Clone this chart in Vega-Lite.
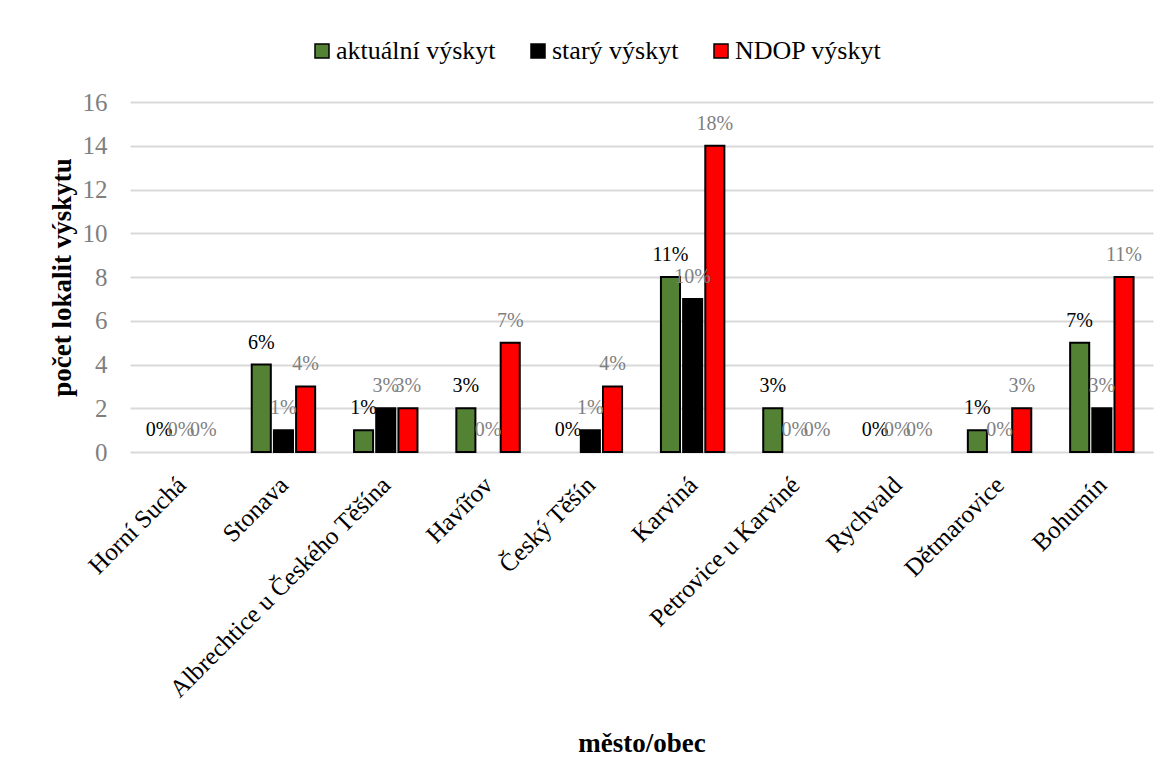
{
  "$schema": "https://vega.github.io/schema/vega-lite/v6.json",
  "width": 1023,
  "height": 350,
  "autosize": {"type": "none"},
  "padding": {"left": 130, "top": 102, "right": 18, "bottom": 328},
  "background": "white",
  "config": {
    "font": "Liberation Serif",
    "view": {"stroke": null},
    "text": {"font": "Liberation Serif"},
    "axis": {"labelFont": "Liberation Serif", "titleFont": "Liberation Serif"},
    "legend": {"labelFont": "Liberation Serif", "titleFont": "Liberation Serif"}
  },
  "data": {
    "values": [
      {"mesto": "Horní Suchá", "serie": "aktuální výskyt", "pocet": 0, "podil": "0%"},
      {"mesto": "Horní Suchá", "serie": "starý výskyt", "pocet": 0, "podil": "0%"},
      {"mesto": "Horní Suchá", "serie": "NDOP výskyt", "pocet": 0, "podil": "0%"},
      {"mesto": "Stonava", "serie": "aktuální výskyt", "pocet": 4, "podil": "6%"},
      {"mesto": "Stonava", "serie": "starý výskyt", "pocet": 1, "podil": "1%"},
      {"mesto": "Stonava", "serie": "NDOP výskyt", "pocet": 3, "podil": "4%"},
      {"mesto": "Albrechtice u Českého Těšína", "serie": "aktuální výskyt", "pocet": 1, "podil": "1%"},
      {"mesto": "Albrechtice u Českého Těšína", "serie": "starý výskyt", "pocet": 2, "podil": "3%"},
      {"mesto": "Albrechtice u Českého Těšína", "serie": "NDOP výskyt", "pocet": 2, "podil": "3%"},
      {"mesto": "Havířov", "serie": "aktuální výskyt", "pocet": 2, "podil": "3%"},
      {"mesto": "Havířov", "serie": "starý výskyt", "pocet": 0, "podil": "0%"},
      {"mesto": "Havířov", "serie": "NDOP výskyt", "pocet": 5, "podil": "7%"},
      {"mesto": "Český Těšín", "serie": "aktuální výskyt", "pocet": 0, "podil": "0%"},
      {"mesto": "Český Těšín", "serie": "starý výskyt", "pocet": 1, "podil": "1%"},
      {"mesto": "Český Těšín", "serie": "NDOP výskyt", "pocet": 3, "podil": "4%"},
      {"mesto": "Karviná", "serie": "aktuální výskyt", "pocet": 8, "podil": "11%"},
      {"mesto": "Karviná", "serie": "starý výskyt", "pocet": 7, "podil": "10%"},
      {"mesto": "Karviná", "serie": "NDOP výskyt", "pocet": 14, "podil": "18%"},
      {"mesto": "Petrovice u Karviné", "serie": "aktuální výskyt", "pocet": 2, "podil": "3%"},
      {"mesto": "Petrovice u Karviné", "serie": "starý výskyt", "pocet": 0, "podil": "0%"},
      {"mesto": "Petrovice u Karviné", "serie": "NDOP výskyt", "pocet": 0, "podil": "0%"},
      {"mesto": "Rychvald", "serie": "aktuální výskyt", "pocet": 0, "podil": "0%"},
      {"mesto": "Rychvald", "serie": "starý výskyt", "pocet": 0, "podil": "0%"},
      {"mesto": "Rychvald", "serie": "NDOP výskyt", "pocet": 0, "podil": "0%"},
      {"mesto": "Dětmarovice", "serie": "aktuální výskyt", "pocet": 1, "podil": "1%"},
      {"mesto": "Dětmarovice", "serie": "starý výskyt", "pocet": 0, "podil": "0%"},
      {"mesto": "Dětmarovice", "serie": "NDOP výskyt", "pocet": 2, "podil": "3%"},
      {"mesto": "Bohumín", "serie": "aktuální výskyt", "pocet": 5, "podil": "7%"},
      {"mesto": "Bohumín", "serie": "starý výskyt", "pocet": 2, "podil": "3%"},
      {"mesto": "Bohumín", "serie": "NDOP výskyt", "pocet": 8, "podil": "11%"}
    ]
  },
  "encoding": {
    "x": {
      "field": "mesto",
      "type": "nominal",
      "sort": null,
      "scale": {
        "domain": ["Horní Suchá", "Stonava", "Albrechtice u Českého Těšína", "Havířov", "Český Těšín", "Karviná", "Petrovice u Karviné", "Rychvald", "Dětmarovice", "Bohumín"],
        "paddingInner": 0.38,
        "paddingOuter": 0.19
      },
      "axis": {
        "title": "město/obec",
        "titleFont": "Liberation Serif",
        "titleFontSize": 27,
        "titleFontWeight": "bold",
        "titleColor": "black",
        "titleY": 278,
        "labelAngle": -45,
        "labelFont": "Liberation Serif",
        "labelFontSize": 25,
        "labelColor": "black",
        "labelPadding": 20,
        "labelOffset": -8,
        "ticks": false,
        "domain": false,
        "labelLimit": 400
      }
    },
    "xOffset": {
      "field": "serie",
      "type": "nominal",
      "sort": ["aktuální výskyt", "starý výskyt", "NDOP výskyt"],
      "scale": {"domain": ["aktuální výskyt", "starý výskyt", "NDOP výskyt"], "paddingInner": 0.14, "paddingOuter": 0}
    },
    "y": {
      "field": "pocet",
      "type": "quantitative",
      "scale": {"domain": [0, 16]},
      "axis": {
        "title": "počet lokalit výskytu",
        "titleFont": "Liberation Serif",
        "titleFontSize": 27,
        "titleFontWeight": "bold",
        "titleColor": "black",
        "titleX": -68,
        "titleBaseline": "middle",
        "values": [0, 2, 4, 6, 8, 10, 12, 14, 16],
        "labelFont": "Liberation Serif",
        "labelFontSize": 25,
        "labelColor": "#7f7f7f",
        "labelPadding": 23,
        "ticks": false,
        "domain": false,
        "gridColor": "#d9d9d9",
        "gridWidth": 2
      }
    }
  },
  "layer": [
    {
      "transform": [{"filter": "datum.pocet > 0"}],
      "mark": {"type": "bar", "stroke": "black", "strokeWidth": 2},
      "encoding": {
        "color": {
          "field": "serie",
          "type": "nominal",
          "sort": ["aktuální výskyt", "starý výskyt", "NDOP výskyt"],
          "scale": {
            "domain": ["aktuální výskyt", "starý výskyt", "NDOP výskyt"],
            "range": ["#548235", "#000000", "#ff0000"]
          },
          "legend": {
            "title": null,
            "orient": "none",
            "direction": "horizontal",
            "legendX": 179,
            "legendY": -64,
            "symbolType": "square",
            "symbolSize": 196,
            "symbolStrokeColor": "black",
            "symbolStrokeWidth": 1.5,
            "symbolOpacity": 1,
            "labelFont": "Liberation Serif",
            "labelFontSize": 26,
            "labelColor": "black",
            "labelOffset": 1,
            "columnPadding": 29
          }
        }
      }
    },
    {
      "mark": {"type": "text", "baseline": "bottom", "dy": -12, "fontSize": 20, "font": "Liberation Serif"},
      "encoding": {
        "text": {"field": "podil", "type": "nominal"},
        "color": {
          "condition": {"test": "datum.serie === 'aktuální výskyt'", "value": "black"},
          "value": "#7f7f7f"
        }
      }
    }
  ]
}
